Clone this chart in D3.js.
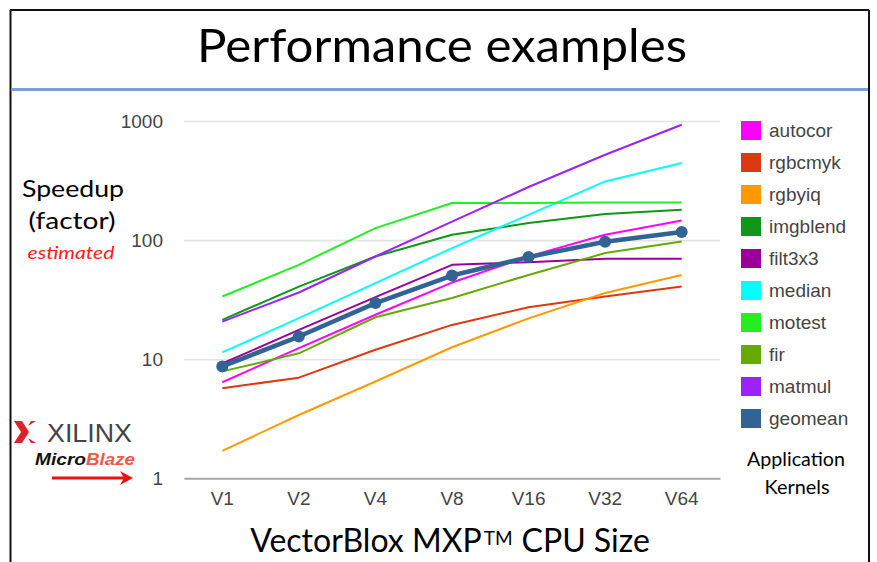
<!DOCTYPE html>
<html>
<head>
<meta charset="utf-8">
<script src="https://cdn.jsdelivr.net/npm/d3@7"></script>
<style>
  html, body { margin: 0; padding: 0; background: #fff; }
  svg { display: block; }
</style>
</head>
<body>
<svg id="chart" width="877" height="562"></svg>
<script>
// ---------------- data ----------------
const categories = ["V1", "V2", "V4", "V8", "V16", "V32", "V64"];
const seriesNames = ["autocor", "rgbcmyk", "rgbyiq", "imgblend", "filt3x3", "median", "motest", "fir", "matmul", "geomean"];
const seriesColors = ["#ff00ff", "#dc3912", "#ff9900", "#109618", "#990099", "#00ffff", "#22ee22", "#66aa00", "#9922ff", "#316395"];
const autocor  = [6.4, 12.4, 23.6, 44, 73, 111, 146];
const rgbcmyk  = [5.7, 7.0, 12, 19.4, 27.3, 33.6, 40.7];
const rgbyiq   = [1.7, 3.4, 6.5, 12.6, 22, 36, 51];
const imgblend = [21.4, 40.7, 72.8, 111, 139, 166, 180];
const filt3x3  = [9.2, 17.6, 33.2, 62, 65.3, 69.6, 69.6];
const median   = [11.4, 22.1, 43.5, 85.7, 163, 311, 444];
const motest   = [33.6, 62, 126, 205, 205, 207, 207];
const fir      = [7.9, 11.2, 22.5, 32.6, 51, 77.8, 97.3];
const matmul   = [20.7, 36.3, 72.8, 143, 279, 521, 931];
const geomean  = [8.7, 15.5, 29.6, 50.4, 72, 97, 117];
const yTicks = [1, 10, 100, 1000];
const yTickLabels = ["1", "10", "100", "1000"];

const seriesValues = [autocor, rgbcmyk, rgbyiq, imgblend, filt3x3, median, motest, fir, matmul, geomean];
const series = seriesNames.map((n, i) => ({ name: n, color: seriesColors[i], values: seriesValues[i] }));

// ---------------- layout ----------------
const svg = d3.select("#chart");
const plot = { left: 184, right: 720, top: 121, bottom: 478.3 };

// slide frame
svg.append("line").attr("x1", 10).attr("y1", 10).attr("x2", 869).attr("y2", 10).attr("stroke", "#111").attr("stroke-width", 2);
svg.append("line").attr("x1", 10.5).attr("y1", 10).attr("x2", 10.5).attr("y2", 562).attr("stroke", "#111").attr("stroke-width", 2);
svg.append("line").attr("x1", 869).attr("y1", 10).attr("x2", 869).attr("y2", 562).attr("stroke", "#111").attr("stroke-width", 2);
svg.append("line").attr("x1", 11).attr("y1", 89.5).attr("x2", 868).attr("y2", 89.5).attr("stroke", "#7aa2d4").attr("stroke-width", 3);

// title
svg.append("text").attr("x", 442).attr("y", 62).attr("text-anchor", "middle")
  .attr("font-family", "Lato, 'Open Sans', sans-serif").attr("font-size", 47).attr("fill", "#000")
  .attr("textLength", 490).attr("lengthAdjust", "spacingAndGlyphs")
  .text("Performance examples");

// scales
const x = d3.scaleBand().domain(categories).range([plot.left, plot.right]);
const cx = d => x(d) + x.bandwidth() / 2;
const y = d3.scaleLog().domain([1, 1000]).range([plot.bottom, plot.top]);

// y gridlines + labels
const yAxis = d3.axisLeft(y).tickValues(yTicks)
  .tickFormat((d, i) => yTickLabels[i])
  .tickSize(-(plot.right - plot.left)).tickPadding(21);
const gy = svg.append("g").attr("transform", `translate(${plot.left},0)`).call(yAxis);
gy.select(".domain").remove();
gy.selectAll(".tick line").attr("stroke", "#e3e3e3").attr("stroke-width", 1.6);
gy.selectAll(".tick text").attr("font-family", "'Liberation Sans', Arial, sans-serif")
  .attr("font-size", 19).attr("fill", "#444");

// x axis
const xAxis = d3.axisBottom(x).tickSize(0).tickPadding(13.5);
const gx = svg.append("g").attr("transform", `translate(0,${plot.bottom})`).call(xAxis);
gx.select(".domain").attr("stroke", "#a8a8a8").attr("stroke-width", 2);
gx.selectAll(".tick text").attr("font-family", "'Liberation Sans', Arial, sans-serif")
  .attr("font-size", 19).attr("fill", "#444");

// lines
const line = d3.line().x((d, i) => cx(categories[i])).y(d => y(d));
series.forEach(s => {
  const isGeo = s.name === "geomean";
  svg.append("path").datum(s.values)
    .attr("d", line).attr("fill", "none")
    .attr("stroke", s.color).attr("stroke-width", isGeo ? 4.5 : 2)
    .attr("stroke-linejoin", "round");
  if (isGeo) {
    svg.append("g").selectAll("circle").data(s.values).join("circle")
      .attr("cx", (d, i) => cx(categories[i])).attr("cy", d => y(d))
      .attr("r", 6).attr("fill", s.color);
  }
});

// legend
const legend = svg.append("g");
series.forEach((s, i) => {
  const ly = 121 + 32 * i;
  legend.append("rect").attr("x", 741).attr("y", ly).attr("width", 20).attr("height", 19).attr("fill", s.color);
  legend.append("text").attr("x", 769).attr("y", ly + 16).attr("font-family", "'Liberation Sans', Arial, sans-serif")
    .attr("font-size", 19).attr("fill", "#444").text(s.name);
});
const sansBody = "Lato, 'Open Sans', sans-serif";
svg.append("text").attr("x", 796).attr("y", 466).attr("text-anchor", "middle").attr("font-family", sansBody)
  .attr("font-size", 20).attr("fill", "#000").attr("textLength", 98).attr("lengthAdjust", "spacingAndGlyphs").text("Application");
svg.append("text").attr("x", 797).attr("y", 494).attr("text-anchor", "middle").attr("font-family", sansBody)
  .attr("font-size", 20).attr("fill", "#000").attr("textLength", 65).attr("lengthAdjust", "spacingAndGlyphs").text("Kernels");

// y axis title
svg.append("text").attr("x", 73).attr("y", 197).attr("text-anchor", "middle").attr("font-family", sansBody)
  .attr("font-size", 24).attr("fill", "#000").attr("textLength", 102).attr("lengthAdjust", "spacingAndGlyphs").text("Speedup");
svg.append("text").attr("x", 72).attr("y", 229).attr("text-anchor", "middle").attr("font-family", sansBody)
  .attr("font-size", 24).attr("fill", "#000").attr("textLength", 87).attr("lengthAdjust", "spacingAndGlyphs").text("(factor)");
svg.append("text").attr("x", 71).attr("y", 259).attr("text-anchor", "middle").attr("font-family", sansBody)
  .attr("font-style", "italic").attr("font-size", 18).attr("fill", "#ff1a1a").attr("textLength", 87).attr("lengthAdjust", "spacingAndGlyphs").text("estimated");

// helper: several separate texts placed side by side around a center
function placeRow(parts, centerX) {
  const nodes = parts.map(p => {
    const t = svg.append("text").attr("y", p.y).attr("font-family", p.family)
      .attr("font-size", p.size).attr("fill", p.fill || "#000")
      .attr("font-weight", p.weight || null).attr("font-style", p.style || null).text(p.text);
    if (p.len) t.attr("textLength", p.len).attr("lengthAdjust", "spacingAndGlyphs");
    return t;
  });
  const widths = nodes.map((n, i) => parts[i].len || n.node().getComputedTextLength());
  const gaps = parts.map(p => p.gap || 0);
  const total = widths.reduce((a, b) => a + b, 0) + gaps.reduce((a, b) => a + b, 0);
  let cur = centerX - total / 2;
  nodes.forEach((n, i) => { cur += gaps[i]; n.attr("x", cur); cur += widths[i]; });
}

// x axis title
placeRow([
  { text: "VectorBlox MXP", size: 32, family: sansBody, y: 552 },
  { text: "TM", size: 19, family: sansBody, y: 545, gap: 2 },
  { text: "CPU Size", size: 32, family: sansBody, y: 552, gap: 9 }
], 450);

// Xilinx logo
const logo = svg.append("g");
logo.append("path").attr("d", "M14,421 L22,421 L29,432 L22,443 L14,443 L21,432 Z").attr("fill", "#e0202a");
logo.append("path").attr("d", "M36,421 L31,421 L28,426 Z").attr("fill", "#e0202a");
logo.append("path").attr("d", "M36,443 L31,443 L28,438 Z").attr("fill", "#e0202a");
logo.append("text").attr("x", 47).attr("y", 442).attr("font-family", "'Liberation Sans', Arial, sans-serif")
  .attr("font-size", 26).attr("fill", "#444").attr("textLength", 85).attr("lengthAdjust", "spacingAndGlyphs").text("XILINX");
placeRow([
  { text: "Micro", size: 16, family: "'Liberation Sans', Arial, sans-serif", y: 465, fill: "#111", weight: "bold", style: "italic", len: 51 },
  { text: "Blaze", size: 16, family: "'Liberation Sans', Arial, sans-serif", y: 465, fill: "#ee5a4a", weight: "bold", style: "italic", len: 49 }
], 85);
// red arrow
logo.append("line").attr("x1", 52).attr("y1", 478).attr("x2", 126).attr("y2", 478).attr("stroke", "#ee1111").attr("stroke-width", 3);
logo.append("path").attr("d", "M133,478 L120,471 L124,478 L120,485 Z").attr("fill", "#ee1111");
</script>
</body>
</html>
